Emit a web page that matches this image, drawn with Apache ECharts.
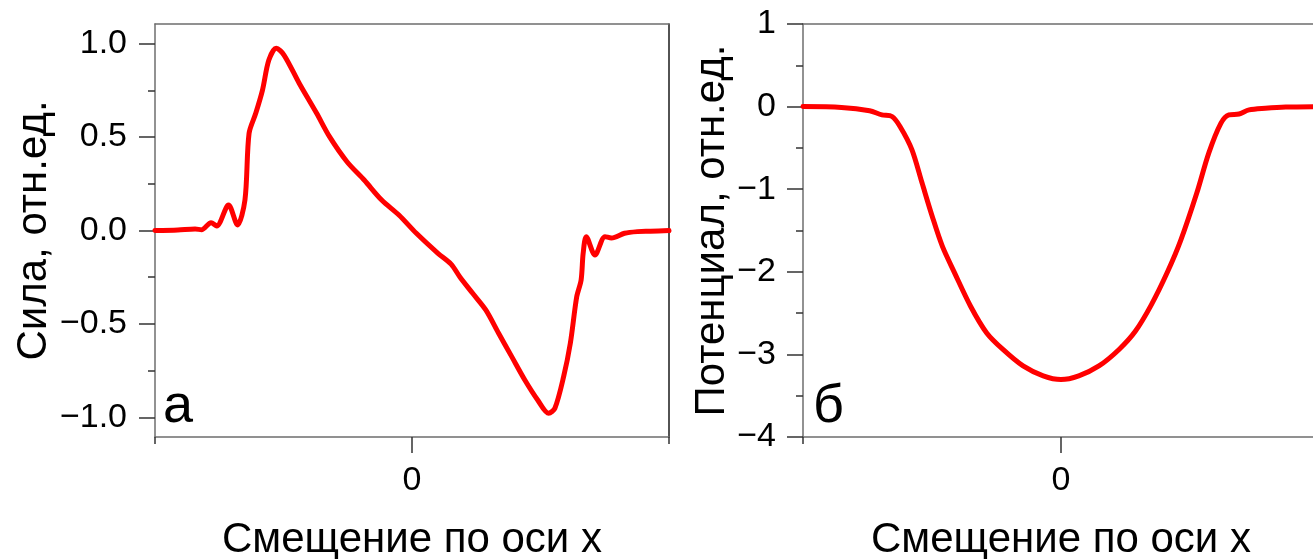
<!DOCTYPE html>
<html>
<head>
<meta charset="utf-8">
<script src="https://cdn.jsdelivr.net/npm/echarts@6/dist/echarts.min.js"></script>
<style>
  html, body { margin: 0; padding: 0; background: #fff; }
  #chart { width: 1313px; height: 559px; }
</style>
</head>
<body>
<div id="chart"></div>
<script>
// Panel а: force versus displacement
const forceX = [-1.0, -0.911, -0.844, -0.819, -0.782, -0.760, -0.714, -0.679, -0.650, -0.634,
  -0.608, -0.582, -0.557, -0.528, -0.498, -0.439, -0.371, -0.321, -0.253, -0.186,
  -0.118, -0.051, 0.017, 0.101, 0.152, 0.187, 0.236, 0.287, 0.337, 0.388,
  0.439, 0.489, 0.532, 0.556, 0.590, 0.616, 0.641, 0.658, 0.666, 0.678,
  0.712, 0.751, 0.776, 0.827, 0.877, 0.928, 1.0];
const forceY = [0.0, 0.003, 0.008, 0.004, 0.042, 0.024, 0.136, 0.03, 0.163, 0.52,
  0.627, 0.75, 0.912, 0.975, 0.939, 0.788, 0.627, 0.502, 0.368, 0.27,
  0.163, 0.083, -0.015, -0.122, -0.18, -0.25, -0.336, -0.425, -0.55, -0.675,
  -0.8, -0.907, -0.978, -0.951, -0.782, -0.604, -0.354, -0.265, -0.122, -0.033,
  -0.131, -0.033, -0.04, -0.015, -0.006, -0.004, 0.0];

// Panel б: potential versus displacement
const potX = [-1.0, -0.851, -0.742, -0.694, -0.655, -0.624, -0.578, -0.539, -0.499, -0.460,
  -0.413, -0.350, -0.288, -0.225, -0.147, -0.069, 0.0, 0.069, 0.147, 0.225,
  0.288, 0.350, 0.413, 0.464, 0.526, 0.573, 0.620, 0.651, 0.690, 0.729,
  0.792, 0.871, 1.0];
const potY = [0.0, -0.01, -0.05, -0.1, -0.12, -0.24, -0.52, -0.92, -1.33, -1.69,
  -2.01, -2.42, -2.74, -2.94, -3.14, -3.26, -3.305, -3.26, -3.14, -2.94,
  -2.72, -2.40, -2.0, -1.62, -1.05, -0.56, -0.2, -0.1, -0.09, -0.04,
  -0.02, -0.005, 0.0];

// Tick positions and texts
const forceTicks = [-1, -0.5, 0, 0.5, 1];
const forceMinorTicks = [-0.75, -0.25, 0.25, 0.75];
const potTicks = [-4, -3, -2, -1, 0, 1];
const xMajorTicks = [0];
const xEdgeTicks = [-1, 1];
const xTitle = 'Смещение по оси x';
const forceTitle = 'Сила, отн.ед.';
const potTitle = 'Потенциал, отн.ед.';
const panelLabels = ['а', 'б'];

const FONT = 'Arial, "Liberation Sans", sans-serif';
const AXIS_GREY = '#6e6e6e';
const TICK_DARK = '#333';
const TITLE_SIZE = 42;
const TICK_SIZE = 34;

const zip = (xs, ys) => xs.map((x, i) => [x, ys[i]]);
const minus = s => String(s).replace('-', '\u2212');

const chart = echarts.init(document.getElementById('chart'));

function bottomAxes(grid) {
  return [
    {
      gridIndex: grid, type: 'value', min: -1, max: 1, position: 'bottom',
      axisLine: { show: true, onZero: false, lineStyle: { color: AXIS_GREY, width: 1.5 } },
      axisTick: { show: true, customValues: xMajorTicks, length: 16, lineStyle: { color: TICK_DARK, width: 1.5 } },
      axisLabel: { show: true, customValues: xMajorTicks, margin: 27, fontSize: TICK_SIZE, color: '#000', fontFamily: FONT,
        formatter: v => minus(v) },
      splitLine: { show: false },
      name: xTitle, nameLocation: 'middle', nameGap: 82,
      nameTextStyle: { fontSize: TITLE_SIZE, color: '#000', fontFamily: FONT }
    },
    {
      gridIndex: grid, type: 'value', min: -1, max: 1, position: 'bottom',
      axisLine: { show: false, onZero: false },
      axisTick: { show: true, customValues: xEdgeTicks, length: 7, lineStyle: { color: TICK_DARK, width: 1.5 } },
      axisLabel: { show: false },
      splitLine: { show: false }
    },
    {
      gridIndex: grid, type: 'value', min: -1, max: 1, position: 'top',
      axisLine: { show: true, onZero: false, lineStyle: { color: AXIS_GREY, width: 1.5 } },
      axisTick: { show: false }, axisLabel: { show: false }, splitLine: { show: false }
    }
  ];
}

const option = {
  animation: false,
  backgroundColor: '#fff',
  grid: [
    { left: 155, top: 24, width: 514, height: 413, containLabel: false, outerBoundsMode: 'none' },
    { left: 803, top: 24, width: 516, height: 413, containLabel: false, outerBoundsMode: 'none' }
  ],
  xAxis: [...bottomAxes(0), ...bottomAxes(1)],
  yAxis: [
    {
      gridIndex: 0, type: 'value', min: -1.105, max: 1.105, position: 'left',
      axisLine: { show: true, onZero: false, lineStyle: { color: AXIS_GREY, width: 1.5 } },
      axisTick: { show: true, customValues: forceTicks, length: 16, lineStyle: { color: TICK_DARK, width: 1.5 } },
      axisLabel: { show: true, customValues: forceTicks, margin: 28, fontSize: TICK_SIZE, color: '#000', fontFamily: FONT,
        formatter: v => minus(Number(v).toFixed(1)) },
      splitLine: { show: false },
      name: forceTitle, nameLocation: 'middle', nameGap: 100,
      nameTextStyle: { fontSize: TITLE_SIZE, color: '#000', fontFamily: FONT }
    },
    {
      gridIndex: 0, type: 'value', min: -1.105, max: 1.105, position: 'left',
      axisLine: { show: false, onZero: false },
      axisTick: { show: true, customValues: forceMinorTicks, length: 7, lineStyle: { color: TICK_DARK, width: 1.5 } },
      axisLabel: { show: false }, splitLine: { show: false }
    },
    {
      gridIndex: 0, type: 'value', min: -1.105, max: 1.105, position: 'right',
      axisLine: { show: true, onZero: false, lineStyle: { color: '#1a1a1a', width: 1.5 } },
      axisTick: { show: false }, axisLabel: { show: false }, splitLine: { show: false }
    },
    {
      gridIndex: 1, type: 'value', min: -4, max: 1, interval: 1, position: 'left',
      axisLine: { show: true, onZero: false, lineStyle: { color: AXIS_GREY, width: 1.5 } },
      axisTick: { show: true, length: 16, lineStyle: { color: TICK_DARK, width: 1.5 } },
      minorTick: { show: true, splitNumber: 2, length: 7, lineStyle: { color: TICK_DARK, width: 1.5 } },
      axisLabel: { show: true, margin: 27, fontSize: TICK_SIZE, color: '#000', fontFamily: FONT,
        formatter: v => minus(v) },
      splitLine: { show: false },
      name: potTitle, nameLocation: 'middle', nameGap: 70,
      nameTextStyle: { fontSize: TITLE_SIZE, color: '#000', fontFamily: FONT }
    }
  ],
  series: [
    {
      type: 'line', xAxisIndex: 0, yAxisIndex: 0, data: zip(forceX, forceY),
      showSymbol: false, smooth: 0.3,
      lineStyle: { color: '#ff0000', width: 5, join: 'round', cap: 'round' }
    },
    {
      type: 'line', xAxisIndex: 3, yAxisIndex: 3, data: zip(potX, potY),
      showSymbol: false, smooth: 0.3,
      lineStyle: { color: '#ff0000', width: 5, join: 'round', cap: 'round' }
    }
  ],
  graphic: [
    { type: 'text', left: 163, top: 380, style: { text: panelLabels[0], fontSize: 54, fill: '#000', fontFamily: FONT } },
    { type: 'text', left: 813, top: 380, style: { text: panelLabels[1], fontSize: 54, fill: '#000', fontFamily: FONT } }
  ]
};

chart.setOption(option);
</script>
</body>
</html>
